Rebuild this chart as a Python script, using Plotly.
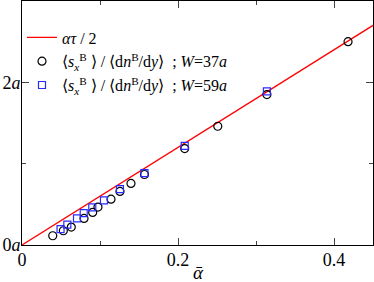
import plotly.graph_objects as go

# theory line  alpha*tau/2
line_x = [0.0, 0.45]
line_y = [0.0, 2.7]

# W = 37a (circles)
w37_x = [0.0394, 0.053, 0.0632, 0.0795, 0.0906, 0.0974, 0.1141, 0.1256, 0.1397, 0.157, 0.2086, 0.251, 0.314, 0.418]
w37_y = [0.114, 0.175, 0.221, 0.327, 0.401, 0.466, 0.564, 0.659, 0.757, 0.867, 1.186, 1.46, 1.85, 2.50]

# W = 59a (squares)
w59_x = [0.0494, 0.0581, 0.0705, 0.0791, 0.0901, 0.1051, 0.1256, 0.157, 0.2086, 0.314]
w59_y = [0.196, 0.250, 0.327, 0.393, 0.463, 0.549, 0.687, 0.883, 1.218, 1.89]

x_ticks = [0, 0.2, 0.4]
x_ticklabels = ["0", "0.2", "0.4"]
y_ticks = [0, 2]
y_ticklabels = ["0<i>a</i>", "2<i>a</i>"]

FONT = "Liberation Serif"
lab = "⟨<i>s</i><sub><i>x</i></sub><sup>B</sup> ⟩ / ⟨d<i>n</i><sup>B</sup>/d<i>y</i>⟩  ; <i>W</i>=%s<i>a</i>"

fig = go.Figure()
fig.add_trace(go.Scatter(x=line_x, y=line_y, mode="lines",
                         line=dict(color="#ff0000", width=1.3),
                         name="<i>ατ</i> / 2"))
fig.add_trace(go.Scatter(x=w37_x, y=w37_y, mode="markers",
                         marker=dict(symbol="circle-open", size=8, color="black", line=dict(width=1.2)),
                         name=lab % "37"))
fig.add_trace(go.Scatter(x=w59_x, y=w59_y, mode="markers",
                         marker=dict(symbol="square-open", size=7, color="#2a2aff", line=dict(width=1.2)),
                         name=lab % "59"))

axis_common = dict(showgrid=False, zeroline=False, showline=True, linecolor="black", linewidth=1,
                   mirror="ticks", ticks="inside", ticklen=7, tickwidth=1, tickcolor="#444",
                   automargin=False,
                   tickfont=dict(family=FONT, size=18, color="black"))

fig.update_xaxes(range=[0, 0.45], tickmode="array", tickvals=x_ticks, ticktext=x_ticklabels,
                 minor=dict(tickvals=[0.1, 0.3], ticks="inside", ticklen=4, tickcolor="#444"),
                 ticklabelstandoff=-2,
                 **axis_common)
fig.update_yaxes(range=[0, 3], tickmode="array", tickvals=y_ticks, ticktext=y_ticklabels,
                 minor=dict(tickvals=[1, 3], ticks="inside", ticklen=4, tickcolor="#444"),
                 ticklabelstandoff=-3,
                 **axis_common)

fig.add_annotation(text="<i>ᾱ</i>", xref="paper", yref="paper", x=0.502, y=-0.06,
                   xanchor="center", yanchor="top", showarrow=False,
                   font=dict(family=FONT, size=19, color="black"))

fig.update_layout(width=374, height=282, margin=dict(l=22, r=1, t=1, b=37),
                  paper_bgcolor="white", plot_bgcolor="white",
                  font=dict(family=FONT),
                  showlegend=True,
                  legend=dict(x=0.0, y=0.92, xanchor="left", yanchor="top",
                              bgcolor="rgba(0,0,0,0)", tracegroupgap=0, itemwidth=30,
                              font=dict(family=FONT, size=16, color="black")))

fig.write_html("out.html", config={"displayModeBar": False},
               post_script="document.body.style.margin='0';")
